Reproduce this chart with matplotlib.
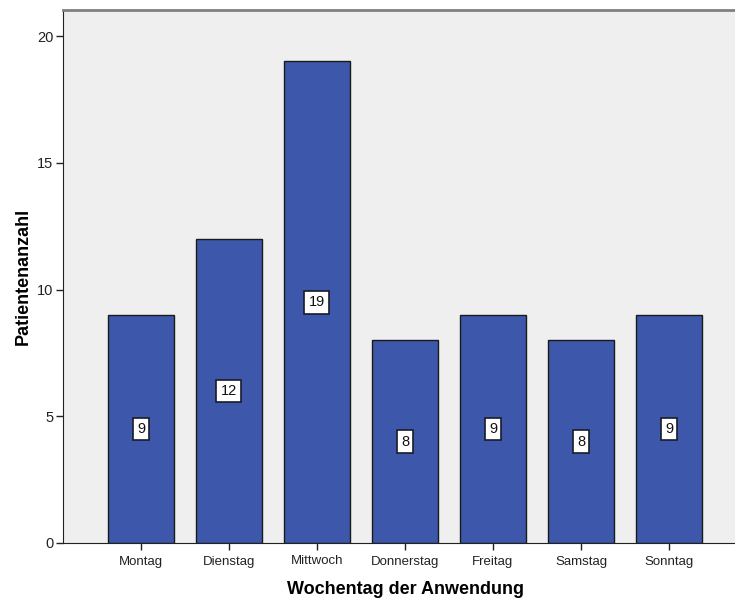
import matplotlib
matplotlib.use("Agg")
import matplotlib.pyplot as plt

plt.rcParams['font.family'] = ['Liberation Sans', 'DejaVu Sans']

days = ["Montag", "Dienstag", "Mittwoch", "Donnerstag", "Freitag", "Samstag", "Sonntag"]
counts = [9, 12, 19, 8, 9, 8, 9]
y_ticks = [0, 5, 10, 15, 20]

fig = plt.figure(figsize=(7.35, 5.99), dpi=100)
ax = fig.add_axes([63 / 735, 56 / 599, 1 - 63 / 735, (543 - 10) / 599])
ax.set_facecolor("#EFEFEF")

x = list(range(len(days)))
bars = ax.bar(x, counts, width=0.76, color="#3D58AB", edgecolor="#1a1a1a", linewidth=1.0, zorder=2)

for xi, v in zip(x, counts):
    ax.text(xi, v / 2, str(v), ha="center", va="center", fontsize=10.5, color="#111111",
            bbox=dict(boxstyle="square,pad=0.3", facecolor="white", edgecolor="#1a1a2a", linewidth=1.2),
            zorder=3)

ax.set_xlim(-0.886, 6.75)
ax.set_ylim(0, 21.03)
ax.set_yticks(y_ticks)
ax.set_xticks(x)
ax.set_xticklabels(days, fontsize=9.5)
ax.tick_params(axis="y", labelsize=10.5, length=5, width=1, direction="out", colors="#222222", pad=2)
ax.tick_params(axis="x", length=5, width=1, direction="out", colors="#222222", pad=4)

ax.spines["right"].set_visible(False)
ax.spines["top"].set_color("#808080")
ax.spines["top"].set_linewidth(2)
ax.spines["left"].set_color("#222222")
ax.spines["bottom"].set_color("#222222")

ax.set_xlabel("Wochentag der Anwendung", fontsize=13, fontweight="bold")
ax.set_ylabel("Patientenanzahl", fontsize=13, fontweight="bold", labelpad=4)
ax.xaxis.set_label_coords(0.509, -0.071)

fig.savefig("out.png", dpi=100)
